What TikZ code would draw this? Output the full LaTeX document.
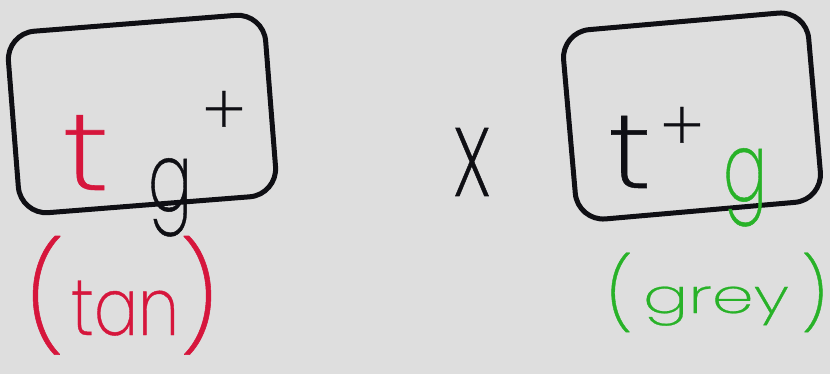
\documentclass[tikz,border=0pt]{standalone}
\usepackage{graphicx}
\usepackage{fontspec}
\setmainfont{Poppins}[UprightFont=* ExtraLight, FakeBold=0.5]
\definecolor{bg}{RGB}{222,222,222}
\definecolor{penred}{RGB}{214,22,60}
\definecolor{pengreen}{RGB}{40,178,40}
\definecolor{ink}{RGB}{15,15,20}
\newcommand{\fs}[1]{\fontsize{#1}{#1}\selectfont}
\begin{document}
\begin{tikzpicture}[x=1pt,y=-1pt,
  box/.style={draw=ink, line width=5pt, rounded corners=28pt, inner sep=0pt},
  glyph/.style={inner sep=0pt, outer sep=0pt}]
\fill[bg] (0,0) rectangle (830,374);
\useasboundingbox (0,0) rectangle (830,374);
% boxes
\node[box, minimum width=258pt, minimum height=182pt, rotate=4.5] (lbox) at (142,114) {};
\node[box, minimum width=246pt, minimum height=190pt, rotate=5] (rbox) at (692,116) {};
% left product
\node[glyph, text=penred, font=\fs{110}, anchor=base, xscale=1.2] (t1) at (86,190) {t};
\node[glyph, text=ink, font=\fs{96}, anchor=base, xscale=0.68] (g1) at (170,211) {g};
\node[glyph, text=ink, font=\fs{70}] (p1) at (224,113) {+};
% times
\node[glyph, text=ink, font=\fs{125}, xscale=0.66] (x) at (472,162) {x};
% right product
\node[glyph, text=ink, font=\fs{106}, anchor=base, xscale=1.15] (t2) at (630,188) {t};
\node[glyph, text=ink, font=\fs{70}] (p2) at (682,129) {+};
\node[glyph, text=pengreen, font=\fs{96}, anchor=base, xscale=0.68] (g2) at (745,201) {g};
% labels
\node[glyph, text=penred, font=\fs{80}, anchor=base] (tan) at (122,335)
  {{\fs{106}(}\hspace{6pt}\scalebox{0.82}[1]{tan}{\fs{106})}};
\node[glyph, text=pengreen, font=\fs{48}, anchor=base] (grey) at (717,313)
  {\raisebox{-6pt}{\fs{71}(}\hspace{10pt}\scalebox{1.4}[1]{grey}\hspace{12pt}\raisebox{-6pt}{\fs{71})}};
\end{tikzpicture}
\end{document}
